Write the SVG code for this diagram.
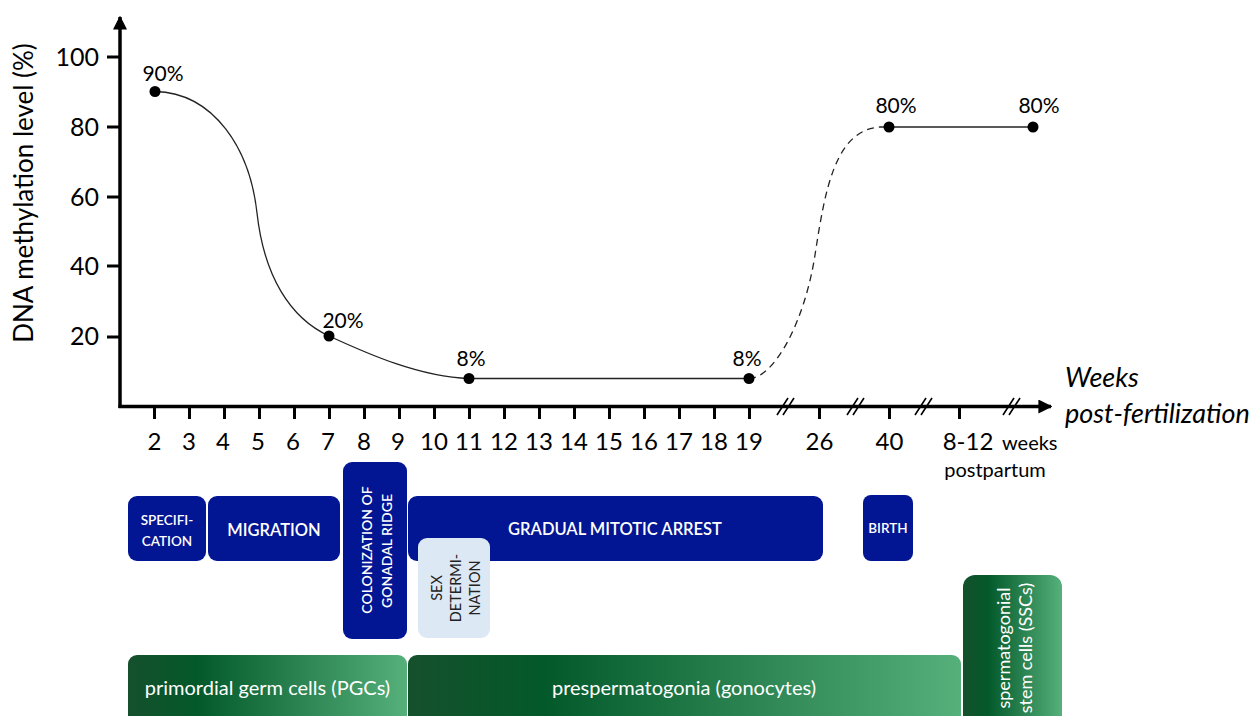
<svg xmlns="http://www.w3.org/2000/svg" width="1257" height="716" viewBox="0 0 1257 716">
<style>
text{font-family:Lato,"Liberation Sans",sans-serif;fill:#000}
.ax{stroke:#000;stroke-width:3.5;fill:none}
.tk{stroke:#000;stroke-width:3;fill:none}
.brk{stroke:#000;stroke-width:1.6;fill:none}
.yl{font-size:25px;text-anchor:end}
.xl{font-size:24px;text-anchor:middle}
.pct{font-size:21px;text-anchor:middle}
.crv{stroke:#222;stroke-width:1.3;fill:none}
.blue{fill:#021592}
.bt{fill:#fff;font-weight:600;text-anchor:middle}
.gt{fill:#fff;font-size:20px;text-anchor:middle}
.gs{fill:#fff;font-size:18px;text-anchor:middle}
.st{fill:#222;font-size:14.5px;text-anchor:middle}
</style>
<defs>
<linearGradient id="grn" x1="0" y1="0" x2="1" y2="0">
<stop offset="0" stop-color="#15502C"/>
<stop offset="0.25" stop-color="#03592A"/>
<stop offset="1" stop-color="#55B07A"/>
</linearGradient>
<marker id="arr" viewBox="0 0 10 10" refX="9" refY="5" markerWidth="4" markerHeight="4" orient="auto" markerUnits="strokeWidth">
<path d="M0,0 L10,5 L0,10 z" fill="#000"/>
</marker>
</defs>

<g id="axes">
<line class="ax" x1="120" y1="408" x2="120" y2="17" marker-end="url(#arr)"/>
<line class="ax" x1="118.5" y1="406.5" x2="1051" y2="406.5" marker-end="url(#arr)"/>
<g id="ytick">
<line class="tk" x1="107" y1="57" x2="120" y2="57"/>
<line class="tk" x1="107" y1="127" x2="120" y2="127"/>
<line class="tk" x1="107" y1="197" x2="120" y2="197"/>
<line class="tk" x1="107" y1="266" x2="120" y2="266"/>
<line class="tk" x1="107" y1="337" x2="120" y2="337"/>
</g>
<text class="yl" x="99" y="66">100</text>
<text class="yl" x="99" y="136">80</text>
<text class="yl" x="99" y="206">60</text>
<text class="yl" x="99" y="275">40</text>
<text class="yl" x="99" y="345">20</text>
<text x="23" y="193" font-size="26" text-anchor="middle" dominant-baseline="central" transform="rotate(-90 23 193)">DNA methylation level (%)</text>
<g id="xtick">
<path class="tk" d="M154.5,406V419M189.5,406V419M224.5,406V419M259.5,406V419M294.5,406V419M329.5,406V419M364.5,406V419M399.5,406V419M434.5,406V419M469.5,406V419M504.5,406V419M539.5,406V419M574.5,406V419M609.5,406V419M644.5,406V419M679.5,406V419M714.5,406V419M749.5,406V419M819.5,406V419M889.5,406V419M959.5,406V419"/>
</g>
<g id="breaks">
<path class="brk" d="M777,415L788,398M783,415L794,398M847,415L858,398M853,415L864,398M915,415L926,398M921,415L932,398M1003,415L1014,398M1009,415L1020,398"/>
</g>
<g id="xlabels">
<text class="xl" x="154.5" y="450">2</text>
<text class="xl" x="189" y="450">3</text>
<text class="xl" x="223" y="450">4</text>
<text class="xl" x="258" y="450">5</text>
<text class="xl" x="293" y="450">6</text>
<text class="xl" x="328" y="450">7</text>
<text class="xl" x="364" y="450">8</text>
<text class="xl" x="398" y="450">9</text>
<text class="xl" x="434" y="450">10</text>
<text class="xl" x="469" y="450">11</text>
<text class="xl" x="504" y="450">12</text>
<text class="xl" x="539" y="450">13</text>
<text class="xl" x="574" y="450">14</text>
<text class="xl" x="609" y="450">15</text>
<text class="xl" x="644" y="450">16</text>
<text class="xl" x="679" y="450">17</text>
<text class="xl" x="714" y="450">18</text>
<text class="xl" x="749" y="450">19</text>
<text class="xl" x="819.5" y="450">26</text>
<text class="xl" x="889.5" y="450">40</text>
<text class="xl" x="968" y="450">8-12</text>
<text x="1002" y="450" font-size="20">weeks</text>
<text x="995" y="477" font-size="20" text-anchor="middle">postpartum</text>
<text x="1065" y="387" font-size="27" font-style="italic">Weeks</text>
<text x="1065" y="423" font-size="27" font-style="italic">post-fertilization</text>
</g>
</g>

<g id="curve">
<path class="crv" d="M155,91.5 C215,93 250,150 257,213 C264,276 290,318 329,336 C368,354 420,377 469,378.5 L749,378.5"/>
<path class="crv" stroke-dasharray="7,5" d="M749,378.5 C775,378 805,320 815,255 C825,190 835,130 880,127"/>
<path class="crv" d="M880,127 L1033,127"/>
<g id="dots" fill="#000">
<circle cx="155" cy="91.5" r="5.5"/>
<circle cx="329" cy="336" r="5.5"/>
<circle cx="469" cy="378.5" r="5.5"/>
<circle cx="749" cy="378.5" r="5.5"/>
<circle cx="889" cy="127" r="5.5"/>
<circle cx="1033" cy="127" r="5.5"/>
</g>
<text class="pct" x="163" y="81">90%</text>
<text class="pct" x="343" y="328">20%</text>
<text class="pct" x="471" y="366">8%</text>
<text class="pct" x="747" y="366">8%</text>
<text class="pct" x="896" y="113">80%</text>
<text class="pct" x="1039" y="113">80%</text>
</g>

<g id="specification">
<rect class="blue" x="128" y="496" width="78" height="65" rx="9"/>
<text class="bt" x="167" y="525" font-size="13.5">SPECIFI-</text>
<text class="bt" x="167" y="546" font-size="13.5">CATION</text>
</g>
<g id="migration">
<rect class="blue" x="208" y="496" width="132" height="65" rx="9"/>
<text class="bt" x="274" y="536" font-size="16.5">MIGRATION</text>
</g>
<g id="gradual">
<rect class="blue" x="408" y="496" width="415" height="65" rx="9"/>
<text class="bt" x="615" y="535" font-size="16.5">GRADUAL MITOTIC ARREST</text>
</g>
<g id="colonization">
<rect class="blue" x="343" y="462" width="64" height="177" rx="9"/>
<text class="bt" font-size="14" transform="translate(372 550) rotate(-90)">COLONIZATION OF</text>
<text class="bt" font-size="14" transform="translate(392 551) rotate(-90)">GONADAL RIDGE</text>
</g>
<g id="sexdet">
<rect x="418" y="538" width="72" height="100" rx="9" fill="#DDE8F5"/>
<text class="st" transform="translate(442 588) rotate(-90)">SEX</text>
<text class="st" transform="translate(461 588) rotate(-90)">DETERMI-</text>
<text class="st" transform="translate(480 588) rotate(-90)">NATION</text>
</g>
<g id="birth">
<rect class="blue" x="863" y="495" width="50" height="66" rx="8"/>
<text class="bt" x="888" y="533" font-size="13.5">BIRTH</text>
</g>
<g id="pgc">
<rect x="128" y="655" width="279" height="75" rx="9" fill="url(#grn)"/>
<text class="gt" x="267.5" y="695">primordial germ cells (PGCs)</text>
</g>
<g id="prespermatogonia">
<rect x="408" y="655" width="553" height="75" rx="9" fill="url(#grn)"/>
<text class="gt" x="684" y="695">prespermatogonia (gonocytes)</text>
</g>
<g id="ssc">
<rect x="963" y="575" width="99" height="155" rx="12" fill="url(#grn)"/>
<text class="gs" transform="translate(1010 648) rotate(-90)">spermatogonial</text>
<text class="gs" transform="translate(1032 648) rotate(-90)">stem cells (SSCs)</text>
</g>
</svg>
